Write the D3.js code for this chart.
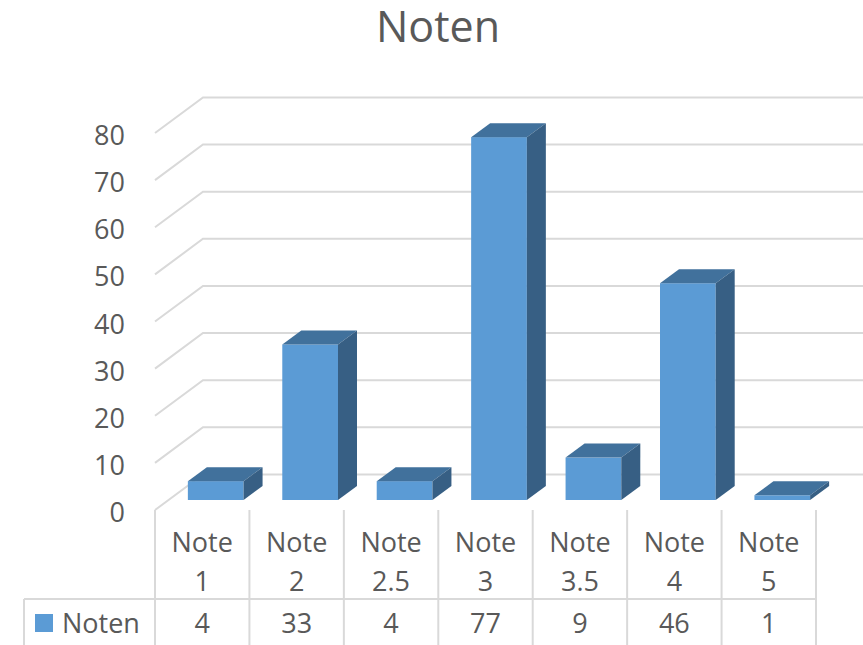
<!DOCTYPE html>
<html>
<head>
<meta charset="utf-8">
<script src="https://cdn.jsdelivr.net/npm/d3@7"></script>
<style>
  body { margin: 0; background: #fff; }
  text { font-family: "Open Sans", sans-serif; fill: #595959; }
</style>
</head>
<body>
<div class="chart"></div>
<script>
var w = 863;
var h = 645;

// data
var categories = ["Note 1", "Note 2", "Note 2.5", "Note 3", "Note 3.5", "Note 4", "Note 5"];
var values = [4, 33, 4, 77, 9, 46, 1];
var yTicks = [0, 10, 20, 30, 40, 50, 60, 70, 80];
var seriesName = "Noten";
var title = "Noten";

var gridColor = "#d9d9d9";
var front = "#5b9bd5", top_ = "#41719c", side = "#375f84";

var svg = d3.select(".chart").append("svg")
    .attr("width", w)
    .attr("height", h);

var x = d3.scaleBand().domain(categories).range([155, 816]);
var y = d3.scaleLinear().domain([0, 80]).range([510, 133]);

// depth of the wall, offset of the bars and their depth
var wallDx = 48, wallDy = -35.6;
var barOx = 13.5, barOy = -10;
var barDx = 19, barDy = -14;
var barW = x.bandwidth() * 0.59;

// title
svg.append("text")
    .attr("x", 438).attr("y", 42)
    .attr("text-anchor", "middle")
    .style("font-size", "43px")
    .text(title);

// gridlines (left wall diagonal + back wall)
svg.selectAll(".grid").data(yTicks).enter().append("polyline")
    .attr("class", "grid")
    .attr("points", function(d) {
        var x0 = x.range()[0], y0 = y(d);
        return [[x0, y0], [x0 + wallDx, y0 + wallDy], [w, y0 + wallDy]].join(" ");
    })
    .attr("fill", "none")
    .attr("stroke", gridColor)
    .attr("stroke-width", 2);

// y labels
svg.selectAll(".ylab").data(yTicks).enter().append("text")
    .attr("class", "ylab")
    .attr("x", 125)
    .attr("y", function(d) { return y(d) + 12; })
    .attr("text-anchor", "end")
    .style("font-size", "27px")
    .text(function(d) { return d; });

// bars
var bars = svg.selectAll(".bar").data(values).enter().append("g").attr("class", "bar");

function bx(i) { return x(categories[i]) + (x.bandwidth() - barW) / 2 + barOx; }

bars.append("rect")
    .attr("x", function(d, i) { return bx(i); })
    .attr("y", function(d) { return y(d) + barOy; })
    .attr("width", barW)
    .attr("height", function(d) { return y(0) - y(d); })
    .attr("fill", front);

bars.append("polygon")
    .attr("points", function(d, i) {
        var x0 = bx(i), y0 = y(d) + barOy;
        return [[x0, y0], [x0 + barW, y0], [x0 + barW + barDx, y0 + barDy], [x0 + barDx, y0 + barDy]].join(" ");
    })
    .attr("fill", top_);

bars.append("polygon")
    .attr("points", function(d, i) {
        var x1 = bx(i) + barW, yt = y(d) + barOy, yb = y(0) + barOy;
        return [[x1, yt], [x1 + barDx, yt + barDy], [x1 + barDx, yb + barDy], [x1, yb]].join(" ");
    })
    .attr("fill", side);

// data table
var rowY = 599;
var table = svg.append("g");
var cols = categories.map(function(c) { return x(c); }).concat([x.range()[1]]);

table.selectAll(".vline").data(cols).enter().append("line")
    .attr("x1", function(d) { return d; }).attr("x2", function(d) { return d; })
    .attr("y1", y(0)).attr("y2", h)
    .attr("stroke", gridColor).attr("stroke-width", 2);

table.append("line")
    .attr("x1", 24).attr("x2", 24).attr("y1", rowY).attr("y2", h)
    .attr("stroke", gridColor).attr("stroke-width", 2);
table.append("line")
    .attr("x1", 24).attr("x2", x.range()[1]).attr("y1", rowY).attr("y2", rowY)
    .attr("stroke", gridColor).attr("stroke-width", 2);

// category labels on two lines
var cl = table.selectAll(".cat").data(categories).enter().append("text")
    .attr("class", "cat")
    .attr("text-anchor", "middle")
    .style("font-size", "27px");
cl.append("tspan")
    .attr("x", function(d) { return x(d) + x.bandwidth() / 2; })
    .attr("y", 552)
    .text(function(d) { return d.split(" ")[0]; });
cl.append("tspan")
    .attr("x", function(d) { return x(d) + x.bandwidth() / 2; })
    .attr("y", 591)
    .text(function(d) { return d.split(" ")[1]; });

// values row
table.selectAll(".val").data(values).enter().append("text")
    .attr("class", "val")
    .attr("x", function(d, i) { return x(categories[i]) + x.bandwidth() / 2; })
    .attr("y", 633)
    .attr("text-anchor", "middle")
    .style("font-size", "27px")
    .text(function(d) { return d; });

// legend key
table.append("rect")
    .attr("x", 35).attr("y", 614).attr("width", 18).attr("height", 18)
    .attr("fill", front);
table.append("text")
    .attr("x", 62).attr("y", 633)
    .style("font-size", "27px")
    .text(seriesName);
</script>
</body>
</html>
